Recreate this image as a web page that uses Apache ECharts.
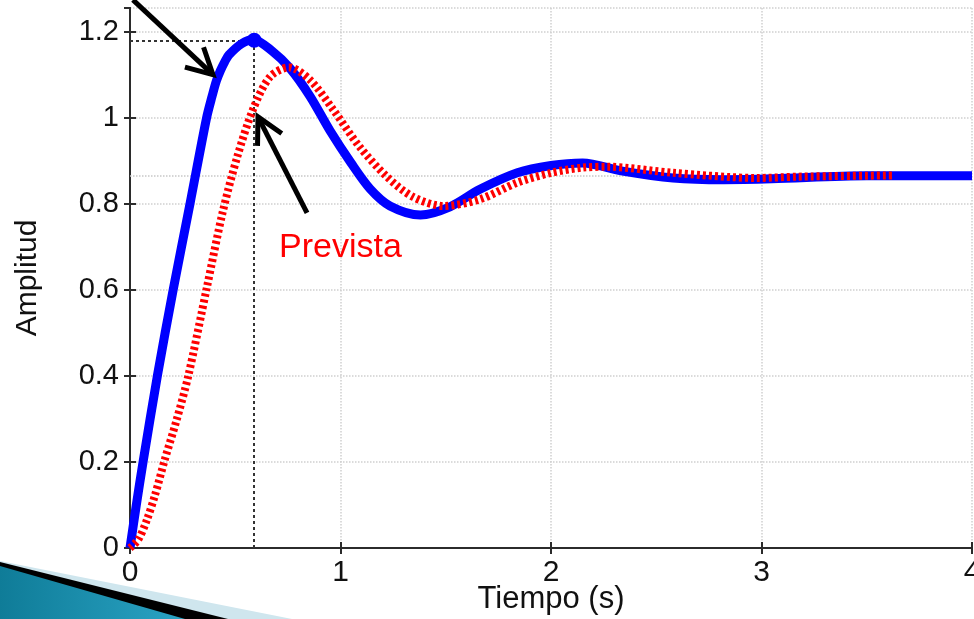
<!DOCTYPE html>
<html>
<head>
    <meta charset="utf-8">
    <title>Respuesta al escalón</title>
    <script src="https://cdn.jsdelivr.net/npm/echarts@6/dist/echarts.min.js"></script>
    <style>html,body{margin:0;padding:0;background:#fff}</style>
</head>
<body>

<div id="main" style="width: 974px;height:619px;"></div>

<script type="text/javascript">

    // respuesta real (azul)
    var tReal = [0, 0.03, 0.062, 0.13, 0.205, 0.285, 0.364, 0.39, 0.41, 0.43, 0.45, 0.47, 0.53, 0.585, 0.675, 0.76, 0.855, 0.95, 1.05, 1.14, 1.235, 1.38, 1.52, 1.66, 1.84, 2.0, 2.15, 2.34, 2.58, 2.82, 3.05, 3.5, 4.0];
    var yReal = [0, 0.1, 0.2, 0.4, 0.6, 0.8, 1.0, 1.05, 1.085, 1.11, 1.13, 1.146, 1.172, 1.182, 1.155, 1.115, 1.05, 0.97, 0.895, 0.835, 0.795, 0.774, 0.793, 0.833, 0.872, 0.889, 0.895, 0.876, 0.86, 0.856, 0.858, 0.865, 0.865];

    // respuesta prevista (rojo punteado)
    var tPrev = [0, 0.04, 0.08, 0.12, 0.165, 0.22, 0.277, 0.365, 0.44, 0.51, 0.585, 0.665, 0.755, 0.855, 0.965, 1.09, 1.22, 1.345, 1.49, 1.66, 1.84, 2.0, 2.15, 2.27, 2.58, 2.98, 3.17, 3.62];
    var yPrev = [0, 0.02, 0.065, 0.125, 0.205, 0.295, 0.4, 0.605, 0.78, 0.91, 1.02, 1.095, 1.117, 1.088, 1.019, 0.933, 0.863, 0.816, 0.795, 0.81, 0.849, 0.872, 0.884, 0.886, 0.872, 0.86, 0.863, 0.866];

    var xMin = 0, xMax = 4, xStep = 1;
    var yMin = 0, yMax = 1.255, yStep = 0.2;
    var pico = [0.59, 1.18];
    var estable = 0.865;

    // anotaciones (coordenadas de datos)
    var flecha1 = [[0.014, 1.274], [0.394, 1.1]];
    var flecha2 = [[0.841, 0.779], [0.608, 1.002]];
    var etiqueta = {texto: 'Prevista', pos: [1.0, 0.698]};

    function zip(a, b) {
        var r = [];
        for (var i = 0; i < a.length; i++) r.push([a[i], b[i]]);
        return r;
    }

    var fuente = 'Liberation Sans, Arial, sans-serif';
    var myChart = echarts.init(document.getElementById('main'));

    var ejeBase = {
        type: 'value',
        axisLine: {lineStyle: {color: '#2b2b2b', width: 2}},
        axisTick: {inside: true, length: 6, lineStyle: {color: '#2b2b2b', width: 2}}
    };

    myChart.setOption({
        animation: false,
        backgroundColor: '#fff',
        grid: {left: 130, right: 2, top: 8, bottom: 71, containLabel: false, outerBoundsMode: 'none'},
        xAxis: [
            Object.assign({}, ejeBase, {
                min: xMin, max: xMax, interval: xStep,
                name: 'Tiempo (s)', nameLocation: 'middle', nameGap: 36, nameMoveOverlap: false,
                nameTextStyle: {fontFamily: fuente, fontSize: 31, color: '#111'},
                axisLabel: {fontFamily: fuente, fontSize: 30, color: '#111', margin: 10},
                splitLine: {show: true, lineStyle: {color: '#cfcfcf', type: 'dotted', width: 1.5}}
            }),
            Object.assign({}, ejeBase, {
                position: 'top', min: xMin, max: xMax, interval: xStep,
                axisLabel: {show: false}, splitLine: {show: false}
            })
        ],
        yAxis: [
            Object.assign({}, ejeBase, {
                min: yMin, max: yMax, interval: yStep,
                name: 'Amplitud', nameLocation: 'middle', nameGap: 87,
                nameTextStyle: {fontFamily: fuente, fontSize: 30, color: '#111'},
                axisLabel: {fontFamily: fuente, fontSize: 29, color: '#111', margin: 11, showMaxLabel: false},
                splitLine: {show: true, lineStyle: {color: '#cfcfcf', type: 'dotted', width: 1.5}}
            }),
            Object.assign({}, ejeBase, {
                position: 'right', min: yMin, max: yMax, interval: yStep,
                axisLabel: {show: false}, splitLine: {show: false}
            })
        ],
        series: [
            {
                name: 'Real',
                type: 'line',
                data: zip(tReal, yReal),
                smooth: 0.3,
                showSymbol: false,
                lineStyle: {color: '#0000ff', width: 9},
                z: 3,
                markLine: {
                    silent: true,
                    symbol: 'none',
                    label: {show: false},
                    data: [
                        [{coord: [xMin, estable], lineStyle: {color: '#c8c8c8', type: 'dotted', width: 1.5}},
                         {coord: [xMax, estable]}],
                        [{coord: [xMin, pico[1]], lineStyle: {color: '#333', type: [3, 3], width: 2}},
                         {coord: [pico[0], pico[1]]}],
                        [{coord: [pico[0], yMin], lineStyle: {color: '#333', type: [3, 3], width: 2}},
                         {coord: [pico[0], pico[1]]}]
                    ],
                    z: 1
                },
                markPoint: {
                    silent: true,
                    symbol: 'circle',
                    symbolSize: 15,
                    itemStyle: {color: '#0000ff'},
                    label: {show: false},
                    data: [{coord: pico}]
                }
            },
            {
                name: 'Prevista',
                type: 'line',
                data: zip(tPrev, yPrev),
                smooth: 0.3,
                showSymbol: false,
                lineStyle: {color: '#ff0000', width: 8, type: [3, 3]},
                z: 4
            }
        ]
    });

    function flecha(desde, hasta) {
        var a = myChart.convertToPixel({gridIndex: 0}, desde);
        var b = myChart.convertToPixel({gridIndex: 0}, hasta);
        var ang = Math.atan2(a[1] - b[1], a[0] - b[0]);
        var L = 29, da = 28 * Math.PI / 180;
        var p1 = [b[0] + L * Math.cos(ang + da), b[1] + L * Math.sin(ang + da)];
        var p2 = [b[0] + L * Math.cos(ang - da), b[1] + L * Math.sin(ang - da)];
        return [
            {type: 'line', z: 20, shape: {x1: a[0], y1: a[1], x2: b[0], y2: b[1]},
             style: {stroke: '#000', lineWidth: 5}},
            {type: 'polyline', z: 20, shape: {points: [p1, b, p2]},
             style: {stroke: '#000', lineWidth: 5, fill: null, lineJoin: 'miter'}}
        ];
    }

    var pt = myChart.convertToPixel({gridIndex: 0}, etiqueta.pos);
    var graficos = [
        // adorno de la diapositiva (esquina inferior izquierda)
        {type: 'polygon', z: 0, shape: {points: [[0, 561], [292, 619], [0, 619]]}, style: {fill: '#cfe6ee'}},
        {type: 'polygon', z: 0, shape: {points: [[0, 562], [228, 619], [0, 619]]}, style: {fill: '#000'}},
        {type: 'polygon', z: 0, shape: {points: [[0, 566], [185, 619], [0, 619]]},
         style: {fill: new echarts.graphic.LinearGradient(0, 0, 1, 0, [
             {offset: 0, color: '#0f7c98'}, {offset: 1, color: '#2aa3c4'}])}},
        {type: 'text', z: 20, x: pt[0], y: pt[1],
         style: {text: etiqueta.texto, fill: '#ff0000', font: '34px ' + fuente,
                 textAlign: 'center', textVerticalAlign: 'middle'}}
    ];
    graficos = graficos.concat(flecha(flecha1[0], flecha1[1]), flecha(flecha2[0], flecha2[1]));
    myChart.setOption({graphic: graficos});

</script>
</body>
</html>
